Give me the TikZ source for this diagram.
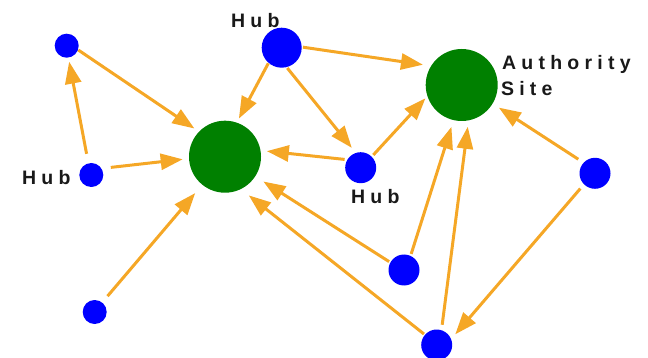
\documentclass[tikz,border=0pt]{standalone}
\usepackage{fontspec}
\setmainfont{Liberation Sans}
\newfontfamily\lblfont{Liberation Sans}[LetterSpace=27]
\usetikzlibrary{arrows.meta}
\definecolor{arr}{RGB}{245,167,38}
\definecolor{gr}{RGB}{0,128,0}
\definecolor{bl}{RGB}{0,0,255}
\definecolor{txt}{RGB}{25,25,25}
\begin{document}
\begin{tikzpicture}[x=1pt,y=-1pt,
  dot/.style={circle,fill=bl,draw=none,inner sep=0pt,outer sep=0pt,minimum size=#1},
  big/.style={circle,fill=gr,draw=none,inner sep=0pt,outer sep=0pt,minimum size=72pt},
  lbl/.style={anchor=base west,inner sep=0pt,outer sep=0pt,text=txt,font=\lblfont\fontsize{19.5}{19.5}\selectfont\bfseries},
  link/.style={draw=arr,line width=3pt,-{Triangle[length=22pt,width=16pt]}}]
\useasboundingbox (0,0) rectangle (648,358);
% nodes
\node[dot=24pt] (a)  at (66.7,45.7) {};
\node[dot=40pt] (ht) at (281.7,47.7) {};
\node[big] (g1) at (225,156.7) {};
\node[big] (au) at (461.7,85) {};
\node[dot=24pt] (hl) at (91.3,175) {};
\node[dot=31pt] (hm) at (360.7,167.7) {};
\node[dot=31pt] (r)  at (595,173.3) {};
\node[dot=24pt] (bl) at (94.7,312) {};
\node[dot=31pt] (bm) at (404,270) {};
\node[dot=31pt] (b)  at (436.7,345) {};
% labels
\node[lbl] (lht) at (231,28) {Hub};
\node[lbl] (lhl) at (22,185) {Hub};
\node[lbl] (lhm) at (351,204) {Hub};
\node[lbl] (lau1) at (502,69.5) {Authority};
\node[lbl] (lau2) at (501,95.5) {Site};
% links
\draw[link,shorten <=0.4pt,shorten >=5.7pt] (a.-20) -- (g1.136);
\draw[link,shorten <=9.7pt,shorten >=4.2pt] (hl.104) -- (a.-82);
\draw[link,shorten <=9.5pt,shorten >=6.4pt] (hl.33) -- (g1.183.5);
\draw[link,shorten <=8.4pt,shorten >=11pt] (bl.52) -- (g1.-129);
\draw[link,shorten <=0.6pt,shorten >=4.6pt] (ht.-131) -- (g1.71);
\draw[link,shorten <=1.3pt,shorten >=8.3pt] (ht.2.7) -- (au.148);
\draw[link,shorten <=1.2pt,shorten >=6.5pt] (ht.-76) -- (hm.108);
\draw[link,shorten <=2.8pt,shorten >=6.4pt] (hm.149) -- (g1.10.5);
\draw[link,shorten <=2.4pt,shorten >=3pt] (hm.45) -- (au.-162);
\draw[link,shorten <=1.6pt,shorten >=9.7pt] (bm.151) -- (g1.-33);
\draw[link,shorten <=1.3pt,shorten >=10.2pt] (b.139) -- (g1.-64);
\draw[link,shorten <=2.1pt,shorten >=7.1pt] (bm.65.5) -- (au.-103);
\draw[link,shorten <=5.5pt,shorten >=6.5pt] (b.72.5) -- (au.-79);
\draw[link,shorten <=6.4pt,shorten >=7.5pt] (r.137) -- (au.-31);
\draw[link,shorten <=5.7pt,shorten >=6.4pt] (r.-135) -- (b.22);
\end{tikzpicture}
\end{document}
